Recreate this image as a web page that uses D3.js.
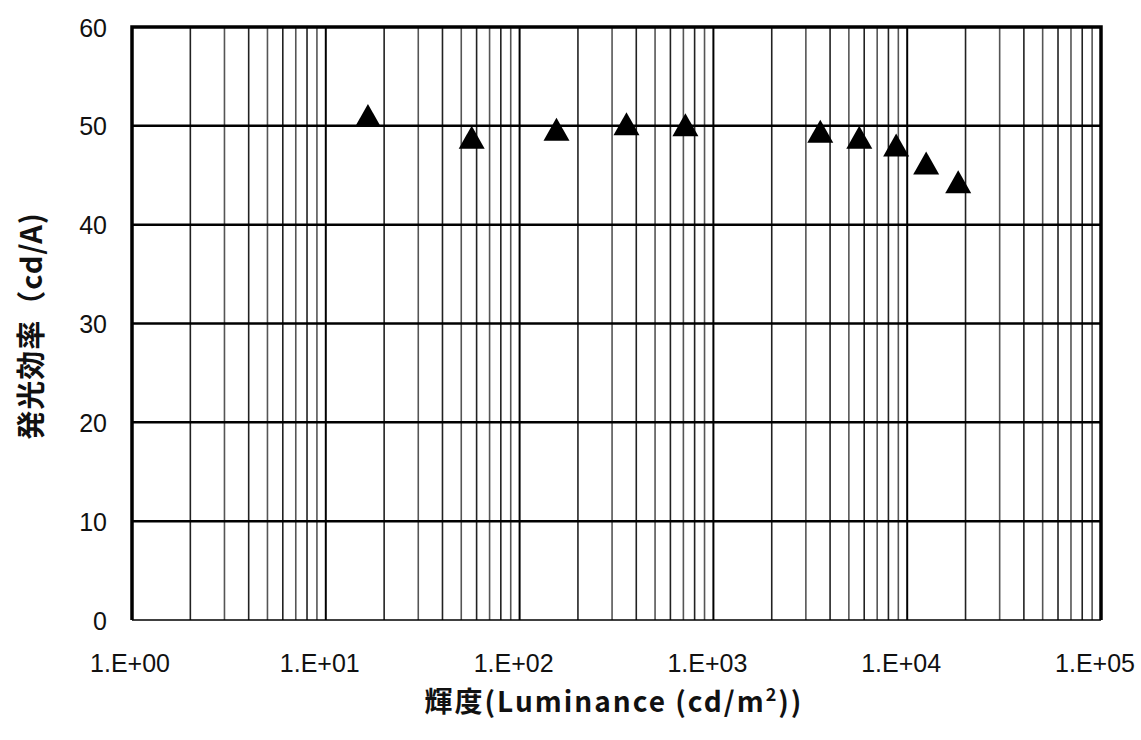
<!DOCTYPE html>
<html>
<head>
<meta charset="utf-8">
<script src="https://cdn.jsdelivr.net/npm/d3@7"></script>
<style>
  body { margin: 0; background: #fff; }
  text { font-family: "Liberation Sans", Arial, sans-serif; fill: #111; }
</style>
</head>
<body>
<div id="chart"></div>
<script>
/* CONSTANTS */
const width = 1141;
const height = 740;
const plotLeft = 132, plotRight = 1101, plotTop = 27, plotBottom = 620;

// DATA
const luminance  = [16.5, 56.6, 155, 356, 717, 3560, 5660, 8770, 12530, 18330];
const efficiency = [51.0, 48.8, 49.6, 50.15, 50.05, 49.4, 48.8, 48.0, 46.2, 44.3];
const xTickLabels = ["1.E+00", "1.E+01", "1.E+02", "1.E+03", "1.E+04", "1.E+05"];
const yTicks = [0, 10, 20, 30, 40, 50, 60];

const points = luminance.map((d, i) => ({lum: d, eff: efficiency[i]}));

const svg = d3.select("#chart").append("svg")
  .attr("width", width)
  .attr("height", height);

const xScale = d3.scaleLog()
  .domain([1, 1e5])
  .range([plotLeft, plotRight]);

const yScale = d3.scaleLinear()
  .domain([0, 60])
  .range([plotBottom, plotTop]);

// minor vertical grid
const minor = [];
for (let e = 0; e < 5; e++) {
  for (let k = 2; k <= 9; k++) minor.push(k * Math.pow(10, e));
}
svg.append("g")
  .selectAll("line")
  .data(minor)
  .join("line")
    .attr("x1", d => xScale(d)).attr("x2", d => xScale(d))
    .attr("y1", plotTop).attr("y2", plotBottom)
    .attr("stroke", (d, i) => i % 2 ? "#555" : "#222")
    .attr("stroke-width", 1.6);

// decade lines
const decades = xTickLabels.map((t, i) => Math.pow(10, i));
svg.append("g")
  .selectAll("line")
  .data(decades.slice(1, -1))
  .join("line")
    .attr("x1", d => xScale(d)).attr("x2", d => xScale(d))
    .attr("y1", plotTop).attr("y2", plotBottom)
    .attr("stroke", "#000")
    .attr("stroke-width", 2);

// horizontal grid
svg.append("g")
  .selectAll("line")
  .data(yTicks.slice(1, -1))
  .join("line")
    .attr("x1", plotLeft).attr("x2", plotRight)
    .attr("y1", d => yScale(d)).attr("y2", d => yScale(d))
    .attr("stroke", "#000")
    .attr("stroke-width", 2.5);

// frame
svg.append("line")
  .attr("x1", plotLeft).attr("x2", plotRight)
  .attr("y1", plotBottom).attr("y2", plotBottom)
  .attr("stroke", "#000").attr("stroke-width", 1.5);
svg.append("path")
  .attr("d", `M${plotLeft},${plotBottom} L${plotLeft},${plotTop} L${plotRight},${plotTop} L${plotRight},${plotBottom}`)
  .attr("fill", "none")
  .attr("stroke", "#000")
  .attr("stroke-width", 3.5);

// y tick labels
svg.append("g")
  .selectAll("text")
  .data(yTicks)
  .join("text")
    .attr("x", 107)
    .attr("y", d => yScale(d))
    .attr("dy", "0.38em")
    .attr("text-anchor", "end")
    .style("font-size", "25px")
    .text(d => d);

// x tick labels
svg.append("g")
  .selectAll("text")
  .data(decades)
  .join("text")
    .attr("x", (d, i) => xScale(d) - (i === 0 ? 2 : 6))
    .attr("y", 672)
    .attr("text-anchor", "middle")
    .style("font-size", "25px")
    .text((d, i) => xTickLabels[i]);

// markers
const tri = "M0,-12 L13,11 L-13,11 Z";
svg.append("g")
  .selectAll("path")
  .data(points)
  .join("path")
    .attr("transform", d => `translate(${xScale(d.lum)},${yScale(d.eff)})`)
    .attr("d", tri)
    .attr("fill", "#000");

// axis titles
svg.append("text")
  .attr("transform", "translate(42,326) rotate(-90)")
  .attr("text-anchor", "middle")
  .style("font-family", "'Noto Sans CJK JP', sans-serif")
  .style("font-weight", "bold")
  .style("font-size", "29px")
  .style("letter-spacing", "1px")
  .text("発光効率（cd/A)");

const xt = svg.append("text")
  .attr("x", 614)
  .attr("y", 712)
  .attr("text-anchor", "middle")
  .style("font-family", "'Noto Sans CJK JP', sans-serif")
  .style("font-weight", "bold")
  .style("font-size", "28px")
  .style("letter-spacing", "2px");
xt.append("tspan").text("輝度(Luminance (cd/m");
xt.append("tspan").attr("dy", -11).style("font-size", "18px").text("2");
xt.append("tspan").attr("dy", 11).text("))");
</script>
</body>
</html>
